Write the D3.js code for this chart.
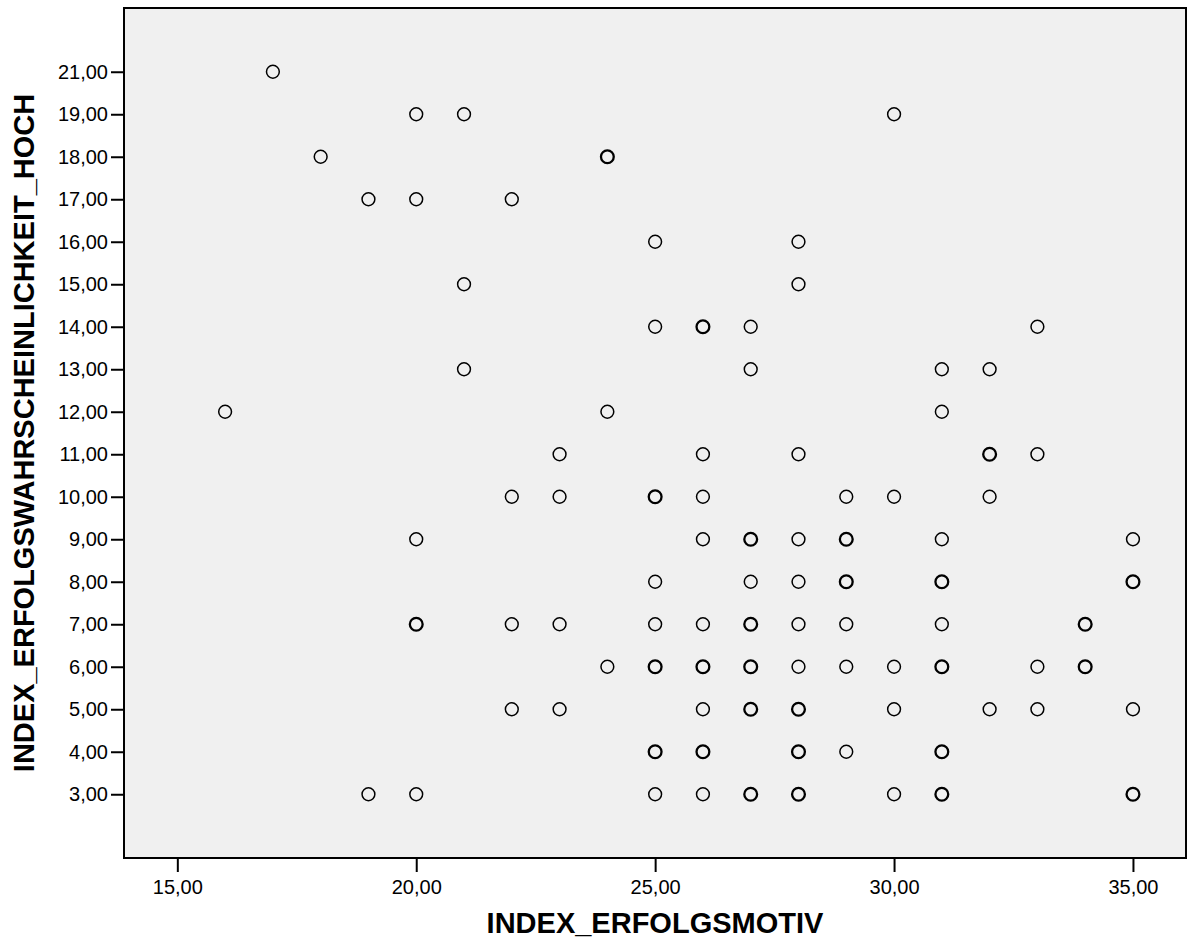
<!DOCTYPE html>
<html>
<head>
<meta charset="utf-8">
<script src="https://cdn.jsdelivr.net/npm/d3@7"></script>
<style>
  body { margin: 0; background: #fff; }
  svg text { font-family: "Liberation Sans", Arial, sans-serif; fill: #000; }
</style>
</head>
<body>
<div id="chart"></div>
<script>
// x = INDEX_ERFOLGSMOTIV, y = INDEX_ERFOLGSWAHRSCHEINLICHKEIT_HOCH
// repeated pairs are cases that sit on the same spot
var motiv = [
  17,
  20, 21, 30,
  18, 24, 24,
  19, 20, 22,
  25, 28,
  21, 28,
  25, 26, 26, 27, 33,
  21, 27, 31, 32,
  16, 24, 31,
  23, 26, 28, 32, 32, 33,
  22, 23, 25, 25, 26, 29, 30, 32,
  20, 26, 27, 27, 28, 29, 29, 31, 35,
  25, 27, 28, 29, 29, 31, 31, 35, 35,
  20, 20, 22, 23, 25, 26, 27, 27, 28, 29, 31, 34, 34,
  24, 25, 25, 26, 26, 27, 27, 28, 29, 30, 31, 31, 33, 34, 34,
  22, 23, 26, 27, 27, 28, 28, 30, 32, 33, 35,
  25, 25, 26, 26, 28, 28, 29, 31, 31,
  19, 20, 25, 26, 27, 27, 28, 28, 30, 31, 31, 35, 35
];
var wahrscheinlichkeit = [
  21,
  19, 19, 19,
  18, 18, 18,
  17, 17, 17,
  16, 16,
  15, 15,
  14, 14, 14, 14, 14,
  13, 13, 13, 13,
  12, 12, 12,
  11, 11, 11, 11, 11, 11,
  10, 10, 10, 10, 10, 10, 10, 10,
  9, 9, 9, 9, 9, 9, 9, 9, 9,
  8, 8, 8, 8, 8, 8, 8, 8, 8,
  7, 7, 7, 7, 7, 7, 7, 7, 7, 7, 7, 7, 7,
  6, 6, 6, 6, 6, 6, 6, 6, 6, 6, 6, 6, 6, 6, 6,
  5, 5, 5, 5, 5, 5, 5, 5, 5, 5, 5,
  4, 4, 4, 4, 4, 4, 4, 4, 4,
  3, 3, 3, 3, 3, 3, 3, 3, 3, 3, 3, 3, 3
];

// y axis is categorical: only the values that occur get a slot (no 20)
var yCategories = [3, 4, 5, 6, 7, 8, 9, 10, 11, 12, 13, 14, 15, 16, 17, 18, 19, 21];
var xTicks = [15, 20, 25, 30, 35];

var xTitle = "INDEX_ERFOLGSMOTIV";
var yTitle = "INDEX_ERFOLGSWAHRSCHEINLICHKEIT_HOCH";

var width = 1188, height = 952;
var plot = { left: 124, top: 8, right: 1186, bottom: 858 };

var de = d3.formatLocale({ decimal: ",", thousands: ".", grouping: [3], currency: ["", " €"] });
var fmt = de.format(".2f");

var svg = d3.select("#chart").append("svg")
    .attr("width", width)
    .attr("height", height);

var x = d3.scaleLinear()
    .domain([13.884, 36.11])
    .range([plot.left, plot.right]);

var y = d3.scalePoint()
    .domain(yCategories)
    .range([plot.bottom, plot.top])
    .padding(1.5);

// plot background + frame
svg.append("rect")
    .attr("x", plot.left)
    .attr("y", plot.top)
    .attr("width", plot.right - plot.left)
    .attr("height", plot.bottom - plot.top)
    .attr("fill", "#f0f0f0");

// group identical pairs so stacked cases draw heavier
var points = d3.rollups(d3.range(motiv.length), v => v.length,
    i => motiv[i] + "|" + wahrscheinlichkeit[i])
  .map(function(d) {
    var p = d[0].split("|");
    return { x: +p[0], y: +p[1], n: d[1] };
  });

svg.append("g").selectAll("circle")
    .data(points)
    .enter().append("circle")
      .attr("cx", d => x(d.x))
      .attr("cy", d => y(d.y))
      .attr("r", 6.4)
      .attr("fill", "none")
      .attr("stroke", "#000")
      .attr("stroke-width", d => d.n > 1 ? 2.3 : 1.5);

svg.append("rect")
    .attr("x", plot.left)
    .attr("y", plot.top)
    .attr("width", plot.right - plot.left)
    .attr("height", plot.bottom - plot.top)
    .attr("fill", "none")
    .attr("stroke", "#000")
    .attr("stroke-width", 2);

// axes
var xAxis = svg.append("g")
    .attr("transform", "translate(0," + plot.bottom + ")")
    .call(d3.axisBottom(x).tickValues(xTicks).tickFormat(fmt).tickSize(14).tickPadding(8));

var yAxis = svg.append("g")
    .attr("transform", "translate(" + plot.left + ",0)")
    .call(d3.axisLeft(y).tickFormat(fmt).tickSize(13).tickPadding(3));

[xAxis, yAxis].forEach(function(a) {
  a.select(".domain").remove();
  a.selectAll(".tick line").attr("stroke", "#000").attr("stroke-width", 2);
  a.selectAll(".tick text")
      .style("font-size", "20px")
      .style("font-family", "'Liberation Sans', Arial, sans-serif")
      .attr("fill", "#000");
});

// titles
svg.append("text")
    .attr("x", (plot.left + plot.right) / 2)
    .attr("y", 933)
    .attr("text-anchor", "middle")
    .style("font-size", "29px")
    .style("font-weight", "bold")
    .text(xTitle);

svg.append("text")
    .attr("transform", "translate(34," + ((plot.top + plot.bottom) / 2) + ") rotate(-90)")
    .attr("text-anchor", "middle")
    .style("font-size", "29px")
    .style("font-weight", "bold")
    .text(yTitle);
</script>
</body>
</html>
